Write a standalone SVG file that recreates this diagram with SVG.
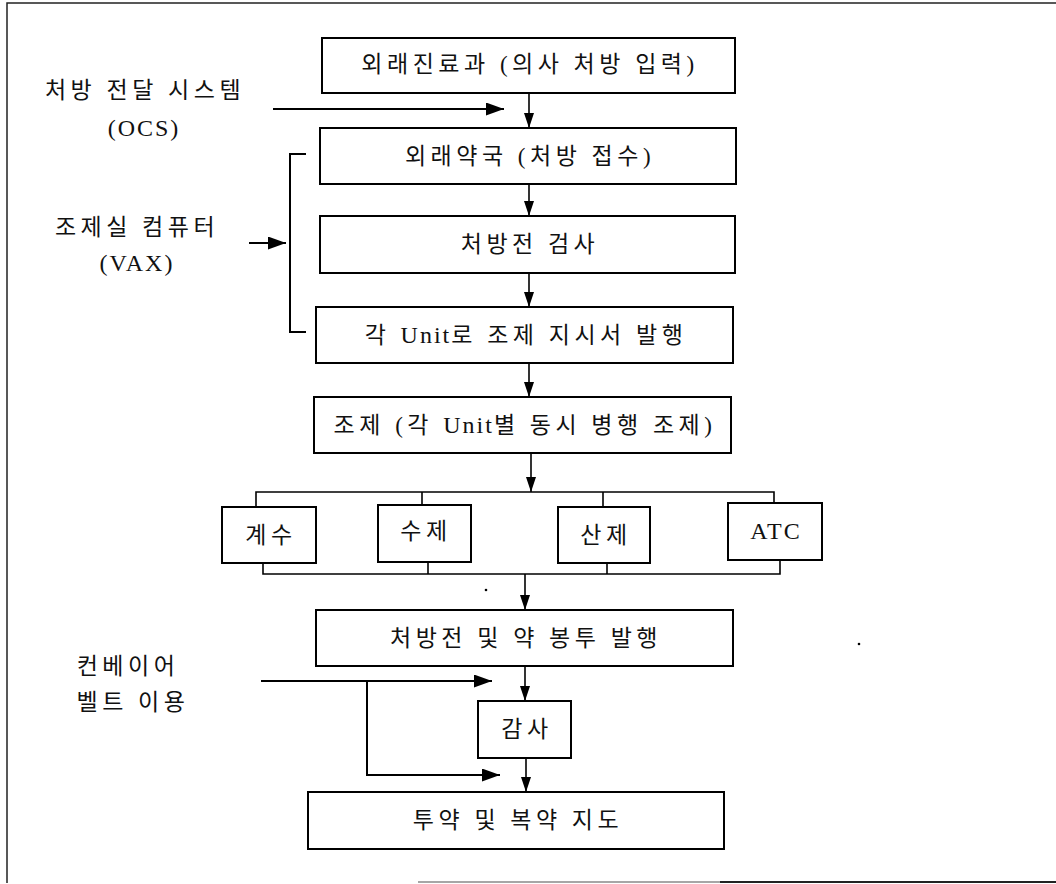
<svg xmlns="http://www.w3.org/2000/svg" width="1056" height="884" viewBox="0 0 1056 884">
<style>
.bx{fill:#fff;stroke:#000;stroke-width:2}
.t{font-family:"Liberation Serif","Noto Sans CJK KR",serif;font-size:23px;letter-spacing:4.5px;fill:#111;text-anchor:middle}
.l{font-size:24px;letter-spacing:2px}
.c{fill:none;stroke:#000;stroke-width:1.6}
.cb{fill:none;stroke:#000;stroke-width:2}
.fr{fill:none;stroke:#222;stroke-width:1.5}
</style>
<defs>
<marker id="a" viewBox="0 0 15 10" refX="15" refY="5" markerWidth="15" markerHeight="10" markerUnits="userSpaceOnUse" orient="auto"><path d="M0,0 L15,5 L0,10 Z" fill="#000"/></marker>
<marker id="ab" viewBox="0 0 18 13" refX="18" refY="6.5" markerWidth="18" markerHeight="13" markerUnits="userSpaceOnUse" orient="auto"><path d="M0,0 L18,6.5 L0,13 Z" fill="#000"/></marker>
</defs>
<rect width="1056" height="884" fill="#fff"/>
<g id="frame">
<path class="fr" d="M1056,3 H7 V883"/>
<path d="M418,882 H720" stroke="#888" stroke-width="1.5"/>
<path d="M720,882 H1056" stroke="#222" stroke-width="2"/>
<circle cx="486" cy="590" r="1.3" fill="#000"/>
<circle cx="859" cy="644" r="1.3" fill="#000"/>
</g>
<g id="connectors">
<path class="c" d="M529,93 V128" marker-end="url(#a)"/>
<path class="c" d="M529,184 V216" marker-end="url(#a)"/>
<path class="c" d="M529,273 V307" marker-end="url(#a)"/>
<path class="c" d="M529,363 V397" marker-end="url(#a)"/>
<path class="c" d="M531,453 V492" marker-end="url(#a)"/>
<path class="c" d="M256,507 V492 H774 V503 M422,492 V505 M603,492 V507"/>
<path class="c" d="M263,563 V574 H780 V560 M428,562 V574 M607,563 V574"/>
<path class="c" d="M525,574 V610" marker-end="url(#a)"/>
<path class="c" d="M525,666 V701" marker-end="url(#a)"/>
<path class="c" d="M526,758 V792" marker-end="url(#a)"/>
<path class="cb" d="M273,109 H504" marker-end="url(#ab)"/>
<path class="cb" d="M249,243 H286" marker-end="url(#ab)"/>
<path class="cb" d="M306,154 H290 V332 H306"/>
<path class="cb" d="M261,681 H492" marker-end="url(#ab)"/>
<path class="cb" d="M367,681 V775 H500" marker-end="url(#ab)"/>
</g>
<g id="labels">
<text class="t" x="145" y="98">처방 전달 시스템</text>
<text class="t l" x="144" y="136">(OCS)</text>
<text class="t" x="137" y="235">조제실 컴퓨터</text>
<text class="t l" x="137" y="271">(VAX)</text>
<text class="t" x="128" y="674">컨베이어</text>
<text class="t" x="133" y="710">벨트 이용</text>
</g>
<g id="n1"><rect class="bx" x="322" y="38" width="413" height="55"/><text class="t" x="530" y="72">외래진료과 (의사 처방 입력)</text></g>
<g id="n2"><rect class="bx" x="320" y="128" width="416" height="56"/><text class="t" x="530" y="164">외래약국 (처방 접수)</text></g>
<g id="n3"><rect class="bx" x="320" y="216" width="415" height="57"/><text class="t" x="530" y="252">처방전 검사</text></g>
<g id="n4"><rect class="bx" x="316" y="307" width="417" height="56"/><text class="t" x="526" y="343">각 <tspan class="l">Unit</tspan>로 조제 지시서 발행</text></g>
<g id="n5"><rect class="bx" x="314" y="397" width="417" height="56"/><text class="t" x="525" y="433">조제 (각 <tspan class="l">Unit</tspan>별 동시 병행 조제)</text></g>
<g id="u1"><rect class="bx" x="222" y="507" width="94" height="56"/><text class="t" x="271" y="543">계수</text></g>
<g id="u2"><rect class="bx" x="378" y="505" width="93" height="57"/><text class="t" x="426" y="539">수제</text></g>
<g id="u3"><rect class="bx" x="558" y="507" width="92" height="56"/><text class="t" x="606" y="543">산제</text></g>
<g id="u4"><rect class="bx" x="728" y="503" width="94" height="57"/><text class="t l" x="776" y="539">ATC</text></g>
<g id="n6"><rect class="bx" x="316" y="610" width="417" height="56"/><text class="t" x="526" y="646">처방전 및 약 봉투 발행</text></g>
<g id="n7"><rect class="bx" x="478" y="701" width="93" height="57"/><text class="t" x="527" y="737">감사</text></g>
<g id="n8"><rect class="bx" x="308" y="792" width="416" height="57"/><text class="t" x="518" y="828">투약 및 복약 지도</text></g>
</svg>
